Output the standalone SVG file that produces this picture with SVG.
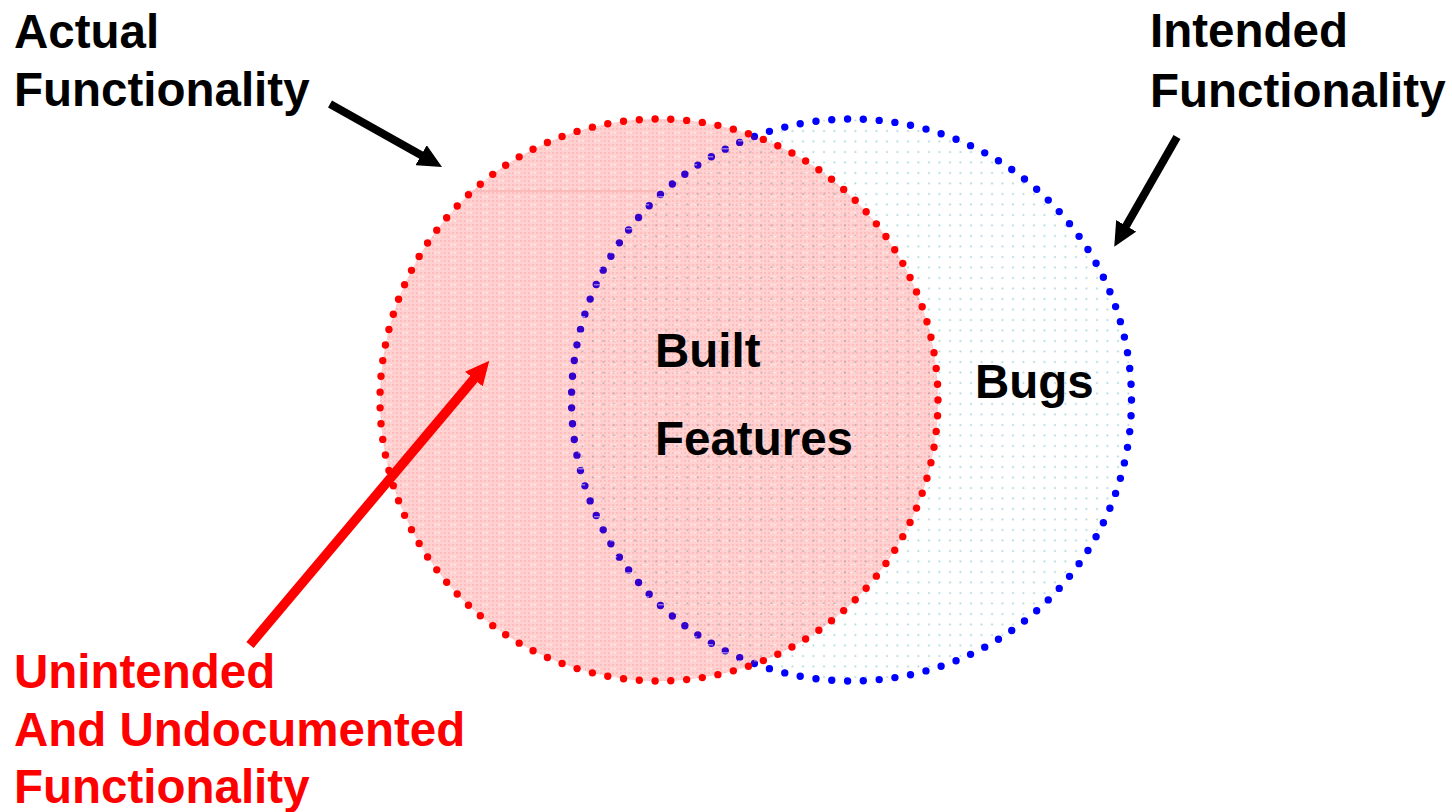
<svg xmlns="http://www.w3.org/2000/svg" width="1452" height="812" viewBox="0 0 1452 812">
  <style>
    .lbl { font-family: "Liberation Sans", Arial, sans-serif; font-weight: bold; font-size: 47.5px; }
    .blk { fill: #000000; }
    .red { fill: #ff0000; }
    .dots { fill: none; stroke-width: 7.4; stroke-linecap: round; stroke-dasharray: 0 1; }
    .arrow-blk { stroke: #000000; stroke-width: 8; fill: none; }
    .arrow-red { stroke: #ff0000; stroke-width: 9.5; fill: none; }
  </style>
  <defs>
    <!-- fine pink weave used inside the actual-functionality circle -->
    <pattern id="pinkWeave" patternUnits="userSpaceOnUse" width="4" height="4">
      <rect x="0" y="0" width="4" height="4" fill="#ff0000" fill-opacity="0.18"/>
      <rect x="0" y="0" width="2" height="2" fill="#ff0000" fill-opacity="0.1"/>
    </pattern>
    <pattern id="greyDash" patternUnits="userSpaceOnUse" width="16" height="8">
      <rect x="2" y="4" width="7" height="1.5" fill="#ffffff" fill-opacity="0.45"/>
    </pattern>
    <!-- sparse cyan dots inside the intended-functionality circle -->
    <pattern id="cyanDots" patternUnits="userSpaceOnUse" width="10.5" height="10.5">
      <circle cx="5" cy="5" r="1" fill="#9fd2da"/>
    </pattern>
    <marker id="headBlk" markerUnits="userSpaceOnUse" markerWidth="24" markerHeight="23" viewBox="0 0 24 23" refX="10" refY="11.5" orient="auto">
      <path d="M0,0 L24,11.5 L0,23 z" fill="#000000"/>
    </marker>
    <marker id="headRed" markerUnits="userSpaceOnUse" markerWidth="24" markerHeight="23" viewBox="0 0 24 23" refX="10" refY="11.5" orient="auto">
      <path d="M0,0 L24,11.5 L0,23 z" fill="#ff0000"/>
    </marker>
  </defs>

  <rect x="0" y="0" width="1452" height="812" fill="#ffffff"/>

  <!-- Intended functionality (blue) -->
  <g id="intended">
    <ellipse cx="851.5" cy="400" rx="280" ry="281" fill="url(#cyanDots)"/>
    <ellipse class="dots" cx="851.5" cy="400" rx="280" ry="281" stroke="#0000ff" pathLength="111"/>
  </g>

  <!-- Actual functionality (red), drawn over the blue circle -->
  <g id="actual">
    <ellipse cx="659" cy="400" rx="279" ry="281" fill="url(#pinkWeave)"/>
    <ellipse cx="659" cy="400" rx="279" ry="281" fill="url(#greyDash)"/>
    <line x1="467" y1="191" x2="657" y2="191" stroke="#f08a8a" stroke-width="1" stroke-opacity="0.6"/>
    <ellipse class="dots" cx="659" cy="400" rx="279" ry="281" stroke="#ff0000" pathLength="111"/>
  </g>

  <g id="label-actual">
    <text class="lbl blk" x="14" y="48">Actual</text>
    <text class="lbl blk" x="14" y="106">Functionality</text>
  </g>

  <g id="label-intended">
    <text class="lbl blk" x="1150" y="47">Intended</text>
    <text class="lbl blk" x="1150" y="107">Functionality</text>
  </g>

  <g id="label-built">
    <text class="lbl blk" x="655" y="367">Built</text>
    <text class="lbl blk" x="655" y="455">Features</text>
  </g>

  <g id="label-bugs">
    <text class="lbl blk" x="975" y="398">Bugs</text>
  </g>

  <g id="label-unintended">
    <text class="lbl red" x="14" y="688">Unintended</text>
    <text class="lbl red" x="14" y="746">And Undocumented</text>
    <text class="lbl red" x="14" y="803">Functionality</text>
  </g>

  <g id="connectors">
    <line class="arrow-blk" x1="330" y1="104" x2="429.8" y2="160.1" marker-end="url(#headBlk)"/>
    <line class="arrow-blk" x1="1177" y1="137" x2="1121.2" y2="234.5" marker-end="url(#headBlk)"/>
    <line class="arrow-red" x1="250" y1="645" x2="480.3" y2="371.4" marker-end="url(#headRed)"/>
  </g>
</svg>
